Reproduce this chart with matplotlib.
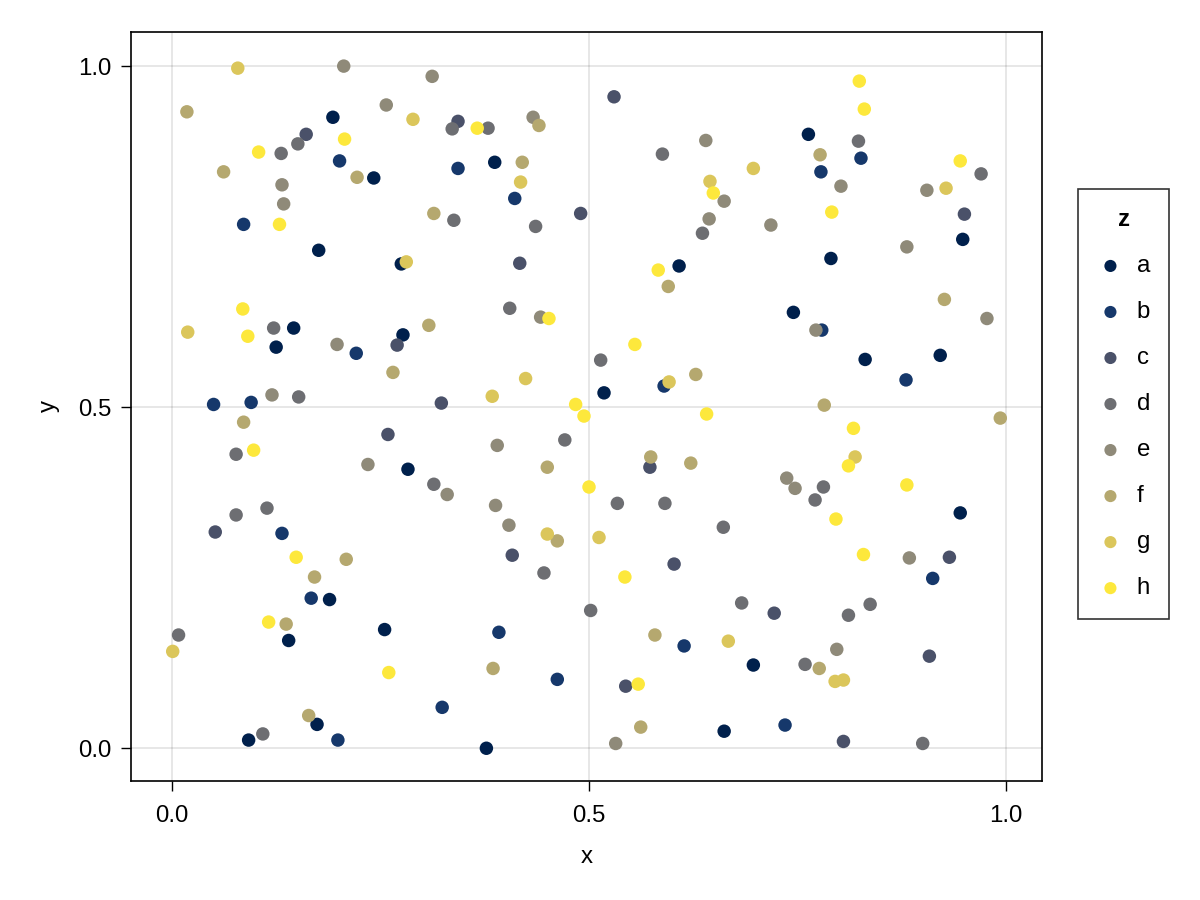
import matplotlib.pyplot as plt

# Point data per category
a_x = [0.193, 0.242, 0.176, 0.275, 0.387, 0.608, 0.763, 0.948, 0.790, 0.146, 0.125, 0.277, 0.283,
       0.518, 0.745, 0.831, 0.921, 0.945, 0.189, 0.140, 0.255, 0.174, 0.092, 0.377, 0.662, 0.697]
a_y = [0.925, 0.836, 0.730, 0.710, 0.859, 0.707, 0.900, 0.746, 0.718, 0.616, 0.588, 0.606, 0.409,
       0.521, 0.639, 0.570, 0.576, 0.345, 0.218, 0.158, 0.174, 0.035, 0.012, 0.000, 0.025, 0.122]

b_x = [0.201, 0.086, 0.343, 0.411, 0.826, 0.778, 0.221, 0.050, 0.095, 0.132, 0.590, 0.779, 0.880,
       0.167, 0.199, 0.392, 0.462, 0.324, 0.614, 0.912, 0.735]
b_y = [0.861, 0.768, 0.850, 0.806, 0.865, 0.845, 0.579, 0.504, 0.507, 0.315, 0.531, 0.613, 0.540,
       0.220, 0.012, 0.170, 0.101, 0.060, 0.150, 0.249, 0.034]

c_x = [0.161, 0.530, 0.343, 0.490, 0.417, 0.950, 0.270, 0.259, 0.052, 0.323, 0.573, 0.408, 0.602,
       0.544, 0.932, 0.722, 0.908, 0.805]
c_y = [0.900, 0.955, 0.919, 0.784, 0.711, 0.783, 0.591, 0.460, 0.317, 0.506, 0.412, 0.283, 0.270,
       0.091, 0.280, 0.198, 0.135, 0.010]

d_x = [0.151, 0.131, 0.336, 0.379, 0.338, 0.436, 0.588, 0.636, 0.823, 0.970, 0.122, 0.152, 0.077,
       0.314, 0.077, 0.114, 0.405, 0.514, 0.471, 0.534, 0.591, 0.661, 0.781, 0.771, 0.008, 0.109,
       0.446, 0.502, 0.683, 0.811, 0.837, 0.759, 0.900]
d_y = [0.886, 0.872, 0.908, 0.909, 0.774, 0.765, 0.871, 0.755, 0.890, 0.842, 0.616, 0.515, 0.431,
       0.387, 0.342, 0.352, 0.645, 0.569, 0.452, 0.359, 0.359, 0.324, 0.383, 0.364, 0.166, 0.021,
       0.257, 0.202, 0.213, 0.195, 0.211, 0.123, 0.007]

e_x = [0.206, 0.312, 0.257, 0.132, 0.134, 0.433, 0.640, 0.662, 0.644, 0.802, 0.905, 0.718, 0.881,
       0.198, 0.120, 0.235, 0.442, 0.390, 0.330, 0.388, 0.404, 0.772, 0.977, 0.737, 0.747, 0.532,
       0.884, 0.797]
e_y = [1.000, 0.985, 0.943, 0.826, 0.798, 0.925, 0.891, 0.802, 0.776, 0.824, 0.818, 0.767, 0.735,
       0.592, 0.518, 0.416, 0.632, 0.444, 0.372, 0.356, 0.327, 0.613, 0.630, 0.396, 0.381, 0.007,
       0.279, 0.145]

f_x = [0.018, 0.222, 0.062, 0.314, 0.440, 0.420, 0.595, 0.777, 0.308, 0.265, 0.086, 0.628, 0.450,
       0.574, 0.622, 0.926, 0.782, 0.993, 0.209, 0.171, 0.137, 0.164, 0.462, 0.385, 0.579, 0.562,
       0.776]
f_y = [0.933, 0.837, 0.845, 0.784, 0.913, 0.859, 0.677, 0.870, 0.620, 0.551, 0.478, 0.548, 0.412,
       0.427, 0.418, 0.658, 0.503, 0.484, 0.277, 0.251, 0.182, 0.048, 0.304, 0.117, 0.166, 0.031,
       0.117]

g_x = [0.079, 0.289, 0.281, 0.418, 0.645, 0.697, 0.928, 0.019, 0.424, 0.384, 0.596, 0.450, 0.819,
       0.001, 0.512, 0.667, 0.795, 0.805]
g_y = [0.997, 0.922, 0.713, 0.830, 0.831, 0.850, 0.821, 0.610, 0.542, 0.516, 0.537, 0.314, 0.427,
       0.142, 0.309, 0.157, 0.098, 0.100]

h_x = [0.104, 0.207, 0.129, 0.366, 0.649, 0.583, 0.824, 0.830, 0.945, 0.791, 0.085, 0.091, 0.098,
       0.452, 0.555, 0.484, 0.494, 0.641, 0.500, 0.817, 0.811, 0.881, 0.796, 0.149, 0.116, 0.260,
       0.543, 0.559, 0.829]
h_y = [0.874, 0.893, 0.768, 0.909, 0.814, 0.701, 0.978, 0.937, 0.861, 0.786, 0.644, 0.604, 0.437,
       0.630, 0.592, 0.504, 0.487, 0.490, 0.383, 0.469, 0.414, 0.386, 0.336, 0.280, 0.185, 0.111,
       0.251, 0.094, 0.284]

categories = ['a', 'b', 'c', 'd', 'e', 'f', 'g', 'h']
colors = ['#00204c', '#16386b', '#4a5169', '#6d6e72', '#8f8a79', '#b5a86f', '#dbc65b', '#fde83c']
series = [(a_x, a_y), (b_x, b_y), (c_x, c_y), (d_x, d_y),
          (e_x, e_y), (f_x, f_y), (g_x, g_y), (h_x, h_y)]

FS = 17.3

plt.rcParams['font.family'] = ['Liberation Sans', 'DejaVu Sans']

fig = plt.figure(figsize=(12, 9), dpi=100)
ax = fig.add_axes([131 / 1200, 1 - 781 / 900, 911 / 1200, 749 / 900])

for cat, col, (xs, ys) in zip(categories, colors, series):
    ax.scatter(xs, ys, s=94, color=col, edgecolors='none', label=cat, zorder=3)

ax.set_xlim(-0.049, 1.043)
ax.set_ylim(-0.048, 1.050)
ax.set_xticks([0.0, 0.5, 1.0])
ax.set_yticks([0.0, 0.5, 1.0])
ax.set_xticklabels(['0.0', '0.5', '1.0'])
ax.set_yticklabels(['0.0', '0.5', '1.0'])
ax.tick_params(length=7, width=1.0, labelsize=FS, colors='black')
ax.tick_params(axis='x', pad=10)
ax.tick_params(axis='y', pad=7)
ax.grid(True, color='black', alpha=0.12, linewidth=1.1)
ax.set_axisbelow(True)
for sp in ax.spines.values():
    sp.set_linewidth(1.2)
ax.set_xlabel('x', fontsize=FS, labelpad=14)
ax.set_ylabel('y', fontsize=FS, labelpad=13)

leg = fig.legend(loc='upper left', bbox_to_anchor=(1078 / 1200, 1 - 189 / 900),
                 title='z', fontsize=FS, title_fontproperties={'weight': 'bold', 'size': FS},
                 frameon=True, fancybox=False, edgecolor='black', labelspacing=1.0,
                 handlelength=1.1, handletextpad=0.55, borderpad=0.8, borderaxespad=0,
                 markerscale=0.9)
leg.get_frame().set_linewidth(1.2)

fig.savefig('out.png', dpi=100)
